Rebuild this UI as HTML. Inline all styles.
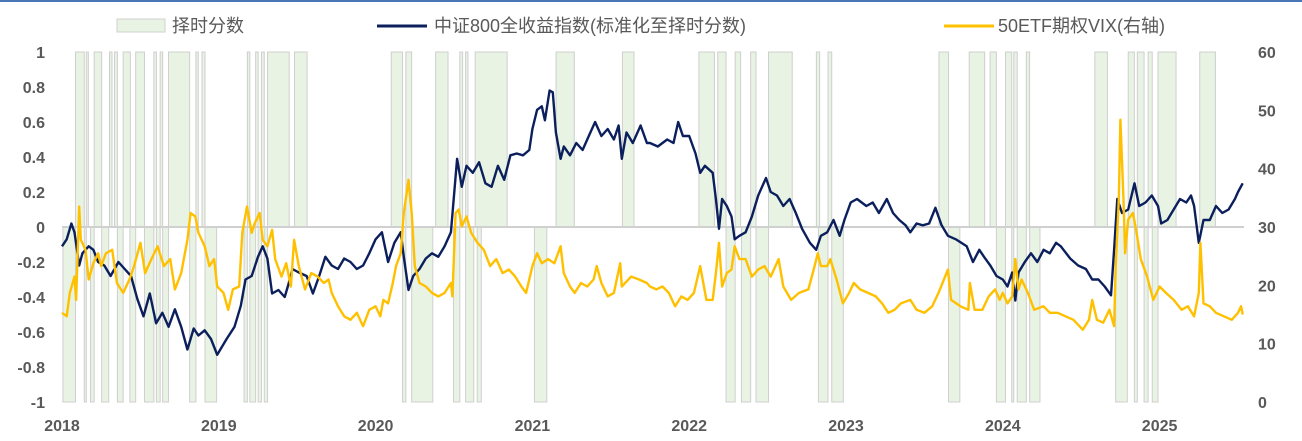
<!DOCTYPE html>
<html><head><meta charset="utf-8">
<style>
html,body{margin:0;padding:0;background:#fff;}
svg{display:block;font-family:"Liberation Sans","Noto Sans CJK SC",sans-serif;}
</style></head>
<body>
<svg id="chart" width="1302" height="441" viewBox="0 0 1302 441" xmlns="http://www.w3.org/2000/svg">
<rect x="0" y="0" width="1302" height="2" fill="#4a76b8"/>
<g id="legend">
 <g>
  <rect x="117" y="19" width="48" height="13" fill="#e8f3e4" stroke="#d0d0d0"/>
  <text x="172" y="32" font-size="18" fill="#595959">择时分数</text>
 </g>
 <g>
  <line x1="377" y1="26" x2="427" y2="26" stroke="#0b1f5c" stroke-width="3"/>
  <text x="434" y="32" font-size="18" fill="#595959">中证800全收益指数(标准化至择时分数)</text>
 </g>
 <g>
  <line x1="944" y1="26" x2="994" y2="26" stroke="#ffc000" stroke-width="3"/>
  <text x="998" y="32" font-size="18" fill="#595959">50ETF期权VIX(右轴)</text>
 </g>
</g>
<g id="bars"></g>
<line x1="62" y1="227" x2="1244" y2="227" stroke="#d0d0d0" stroke-width="2"/>
<g id="lines"></g>
<g id="axes"></g>
</svg>
<script>
const years = ["2018","2019","2020","2021","2022","2023","2024","2025"];
const leftTicks = [1,0.8,0.6,0.4,0.2,0,-0.2,-0.4,-0.6,-0.8,-1];
const rightTicks = [60,50,40,30,20,10,0];
const barStart = [0.086,0.155,0.205,0.303,0.335,0.390,0.470,0.586,0.626,0.679,0.854,0.893,1.182,1.235,1.272,1.311,1.483,2.100,2.193,2.383,2.537,2.574,2.635,3.151,3.574,4.062,4.182,4.293,4.392,4.506,4.811,4.885,5.593,5.786,5.919,6.017,6.070,6.150,6.587,6.800,6.858,6.927,6.990,7.256,
 0.006,0.142,0.182,0.253,0.353,0.433,0.526,0.602,0.642,0.814,0.912,1.161,1.198,1.251,1.290,2.172,2.230,2.497,2.574,2.648,3.013,4.235,4.333,4.426,4.824,4.909,5.654,5.959,6.057,6.092,6.171,6.720,6.839,6.901,6.953];
const barEnd = [0.142,0.168,0.253,0.319,0.353,0.436,0.526,0.602,0.642,0.814,0.869,0.912,1.198,1.251,1.290,1.449,1.563,2.172,2.230,2.462,2.555,2.589,2.839,3.267,3.648,4.161,4.235,4.328,4.426,4.657,4.832,4.909,5.654,5.884,5.959,6.057,6.092,6.171,6.667,6.839,6.901,6.953,7.105,7.356,
 0.086,0.155,0.205,0.298,0.390,0.470,0.586,0.626,0.679,0.854,0.986,1.182,1.235,1.272,1.311,2.193,2.365,2.537,2.626,2.674,3.092,4.293,4.392,4.506,4.885,4.983,5.726,6.017,6.070,6.150,6.237,6.794,6.858,6.927,6.990];
const barValue = [1,1,1,1,1,1,1,1,1,1,1,1,1,1,1,1,1,1,1,1,1,1,1,1,1,1,1,1,1,1,1,1,1,1,1,1,1,1,1,1,1,1,1,1,
 -1,-1,-1,-1,-1,-1,-1,-1,-1,-1,-1,-1,-1,-1,-1,-1,-1,-1,-1,-1,-1,-1,-1,-1,-1,-1,-1,-1,-1,-1,-1,-1,-1,-1,-1];
const idxT = [0.00,0.03,0.06,0.08,0.11,0.13,0.17,0.20,0.23,0.27,0.31,0.36,0.40,0.44,0.48,0.52,0.56,0.60,0.64,0.68,0.72,0.76,0.80,0.84,0.87,0.91,0.95,0.99,1.05,1.10,1.14,1.17,1.21,1.25,1.28,1.31,1.34,1.38,1.42,1.44,1.47,1.51,1.56,1.60,1.64,1.68,1.72,1.76,1.80,1.84,1.88,1.92,1.96,2.00,2.04,2.08,2.12,2.16,2.18,2.21,2.24,2.28,2.32,2.36,2.40,2.44,2.48,2.50,2.52,2.55,2.58,2.62,2.66,2.70,2.74,2.78,2.82,2.86,2.90,2.94,2.98,3.00,3.03,3.06,3.08,3.11,3.13,3.15,3.18,3.20,3.24,3.28,3.32,3.36,3.40,3.44,3.48,3.52,3.55,3.57,3.60,3.64,3.69,3.73,
 3.75,3.80,3.86,3.90,3.93,3.96,4.00,4.04,4.07,4.10,4.15,4.17,4.19,4.21,4.24,4.27,4.29,4.32,4.36,4.40,4.44,4.49,4.52,4.56,4.60,4.64,4.68,4.72,4.77,4.81,4.84,4.88,4.92,4.96,4.99,5.03,5.07,5.13,5.17,5.21,5.26,5.30,5.34,5.38,5.41,5.45,5.49,5.53,5.57,5.61,5.65,5.70,5.77,5.81,5.85,5.88,5.92,5.96,6.00,6.03,6.06,6.08,6.10,6.14,6.18,6.22,6.26,6.30,6.34,6.37,6.43,6.48,6.53,6.57,6.61,6.65,6.69,6.71,6.73,6.76,6.80,6.84,6.87,6.91,6.95,6.99,7.01,7.05,7.09,7.13,7.17,7.20,7.22,7.25,7.28,7.32,7.36,7.40,7.44,7.48,7.50,7.53];
const idxV = [-0.11,-0.07,0.02,-0.03,-0.22,-0.15,-0.11,-0.13,-0.2,-0.22,-0.28,-0.2,-0.24,-0.28,-0.41,-0.51,-0.38,-0.55,-0.49,-0.57,-0.47,-0.57,-0.7,-0.58,-0.62,-0.59,-0.64,-0.73,-0.64,-0.57,-0.45,-0.3,-0.28,-0.17,-0.11,-0.18,-0.38,-0.36,-0.4,-0.34,-0.24,-0.26,-0.28,-0.38,-0.28,-0.17,-0.22,-0.24,-0.18,-0.2,-0.24,-0.22,-0.15,-0.07,-0.03,-0.2,-0.09,-0.03,-0.17,-0.36,-0.28,-0.24,-0.18,-0.15,-0.17,-0.11,-0.03,0.18,0.39,0.23,0.35,0.31,0.37,0.25,0.23,0.35,0.27,0.41,0.42,0.41,0.44,0.56,0.67,0.69,0.61,0.78,0.77,0.54,0.39,0.46,0.41,0.48,0.44,0.52,0.6,0.52,0.56,0.5,0.58,0.39,0.54,0.48,0.58,0.48,
 0.48,0.46,0.5,0.48,0.6,0.52,0.52,0.42,0.31,0.35,0.31,0.16,-0.01,0.16,0.12,0.06,-0.07,-0.05,-0.03,0.06,0.18,0.28,0.2,0.18,0.12,0.16,0.08,-0.01,-0.09,-0.13,-0.05,-0.03,0.04,-0.05,0.04,0.14,0.16,0.12,0.14,0.08,0.16,0.08,0.04,0.01,-0.03,0.02,0.01,0.02,0.11,0.01,-0.05,-0.07,-0.11,-0.2,-0.13,-0.17,-0.22,-0.28,-0.3,-0.34,-0.26,-0.42,-0.26,-0.2,-0.15,-0.2,-0.13,-0.15,-0.09,-0.11,-0.18,-0.22,-0.24,-0.3,-0.3,-0.34,-0.39,-0.13,0.16,0.08,0.1,0.25,0.12,0.14,0.18,0.12,0.02,0.04,0.1,0.16,0.14,0.18,0.12,-0.09,0.04,0.04,0.12,0.08,0.1,0.16,0.2,0.25];
const vixT = [0.00,0.03,0.05,0.08,0.09,0.11,0.12,0.15,0.17,0.20,0.23,0.25,0.28,0.32,0.35,0.39,0.43,0.46,0.50,0.53,0.57,0.61,0.65,0.69,0.72,0.76,0.80,0.82,0.85,0.87,0.91,0.94,0.97,0.99,1.03,1.06,1.09,1.13,1.15,1.18,1.21,1.23,1.26,1.28,1.31,1.34,1.36,1.40,1.43,1.46,1.48,1.51,1.55,1.59,1.63,1.67,1.70,1.72,1.76,1.80,1.84,1.88,1.92,1.96,2.00,2.03,2.05,2.08,2.11,2.13,2.16,2.18,2.21,2.23,2.25,2.28,2.32,2.36,2.40,2.44,2.48,2.49,2.51,2.53,2.55,2.58,2.61,2.65,2.69,2.73,2.77,2.81,2.85,2.89,2.93,2.96,3.00,3.03,3.06,3.10,3.14,3.18,3.20,3.24,3.27,3.31,3.35,3.39,3.41,3.44,3.48,3.52,3.56,3.57,3.63,3.68,3.73,
 3.75,3.79,3.83,3.87,3.91,3.95,3.99,4.03,4.07,4.11,4.15,4.17,4.19,4.21,4.24,4.27,4.29,4.32,4.36,4.40,4.44,4.48,4.52,4.57,4.60,4.65,4.70,4.76,4.80,4.82,4.84,4.88,4.90,4.94,4.98,5.02,5.05,5.09,5.14,5.19,5.23,5.27,5.31,5.35,5.41,5.45,5.50,5.55,5.59,5.65,5.67,5.73,5.78,5.79,5.82,5.87,5.91,5.95,5.98,6.00,6.03,6.06,6.08,6.10,6.12,6.16,6.20,6.26,6.30,6.35,6.40,6.45,6.51,6.55,6.57,6.60,6.64,6.68,6.71,6.72,6.74,6.75,6.77,6.78,6.80,6.83,6.85,6.88,6.92,6.96,7.00,7.04,7.09,7.14,7.18,7.22,7.25,7.26,7.28,7.32,7.36,7.41,7.46,7.50,7.52,7.53];
const vixV = [15.3,14.7,18.7,21.5,17.5,33.5,27.8,26.1,21,23.8,25.5,23.3,25.5,26.1,20.4,18.7,21,23.3,27.3,22.1,24.5,26.7,23.3,24.5,19.3,22.1,27.8,32.4,31.8,29,26.7,23.3,24.5,19.8,18.7,15.8,19.3,19.8,29,33.5,29,30.7,32.4,27.8,26.7,29.5,24.5,21.5,23.8,19.8,27.8,23.3,19.3,22.1,21.5,20.4,21,18.7,16.4,14.7,14.1,15.3,13,15.8,16.4,14.7,17.5,16.9,20.4,23.3,25.5,32.4,38.1,32.4,23.3,20.4,19.8,18.7,18.1,18.7,20.4,18.1,32.4,33,30.1,31.8,29,27.3,26.1,23.3,24.5,22.1,22.7,21.5,19.8,18.7,23.3,25.5,23.8,24.5,23.8,26.7,22.1,19.8,18.7,20.4,19.8,21,23.3,20.4,18.1,18.7,23.8,19.8,21.5,21,20.4,
 19.8,19.3,19.8,18.7,16.4,18.1,17.5,18.7,23.3,17.5,17.5,22.1,27.3,19.8,22.1,22.7,26.7,24.5,24.5,21.5,22.7,23.3,21.5,24.5,19.8,17.5,18.7,19.3,23.3,25.5,23.3,23.3,24.5,21,16.9,18.7,20.4,19.3,18.7,18.1,16.9,15.3,15.8,16.9,17.5,15.8,15.3,16.4,18.7,22.7,17.5,16.4,15.8,20.4,15.8,15.8,18.1,19.3,17.5,18.7,16.9,18.1,24.5,19.3,21,18.7,15.8,16.4,15.3,15.3,14.7,14.1,12.4,14.1,17.5,14.1,13.6,15.8,13,23.3,34.7,48.4,34.7,25.5,31.3,32.4,29.5,24.5,21.5,17.5,19.8,18.7,17.5,15.8,16.4,14.7,18.7,27.3,16.9,16.4,15.3,14.7,14.1,15.3,16.4,15];

const NS = "http://www.w3.org/2000/svg";
const X0 = 62, PX_PER_YEAR = 156.8;
function xScale(t){ return X0 + t * PX_PER_YEAR; }
function yLeft(v){ return 227 - v * 175; }
function yRight(v){ return 402 - v * 350 / 60; }
function mk(tag, attrs, parent){ const e = document.createElementNS(NS, tag); for (const k in attrs) e.setAttribute(k, attrs[k]); parent.appendChild(e); return e; }

const barsG = document.getElementById('bars');
for (let i = 0; i < barStart.length; i++) {
  const x1 = xScale(barStart[i]), x2 = xScale(barEnd[i]);
  const y0 = yLeft(0), y1 = yLeft(barValue[i]);
  const r = mk('rect', {x: x1, y: Math.min(y0, y1), width: Math.max(1, x2 - x1), height: Math.abs(y1 - y0), fill: '#e8f3e4', stroke: '#cfcfcf', 'stroke-width': 1}, barsG);
  
  
}
const linesG = document.getElementById('lines');
let d1 = idxT.map((t, i) => (i ? 'L' : 'M') + xScale(t).toFixed(1) + ',' + yLeft(idxV[i]).toFixed(1)).join('');
const p1 = mk('path', {d: d1, fill: 'none', stroke: '#0b1f5c', 'stroke-width': 2.4, 'stroke-linejoin': 'round'}, linesG);


let d2 = vixT.map((t, i) => (i ? 'L' : 'M') + xScale(t).toFixed(1) + ',' + yRight(vixV[i]).toFixed(1)).join('');
const p2 = mk('path', {d: d2, fill: 'none', stroke: '#ffc000', 'stroke-width': 2.4, 'stroke-linejoin': 'round'}, linesG);



const axesG = document.getElementById('axes');
leftTicks.forEach(v => {
  const t = mk('text', {x: 45, y: yLeft(v) + 6, 'text-anchor': 'end', 'font-size': 16, 'font-weight': 'bold', fill: '#595959'}, axesG);
  t.textContent = String(v);
  
  
});
rightTicks.forEach(v => {
  const t = mk('text', {x: 1258, y: yRight(v) + 6, 'text-anchor': 'start', 'font-size': 16, 'font-weight': 'bold', fill: '#595959'}, axesG);
  t.textContent = String(v);
  
  
});
years.forEach((y, i) => {
  const t = mk('text', {x: xScale(i), y: 431, 'text-anchor': 'middle', 'font-size': 16, 'font-weight': 'bold', fill: '#595959'}, axesG);
  t.textContent = y;
  
  
});
</script>
</body></html>
